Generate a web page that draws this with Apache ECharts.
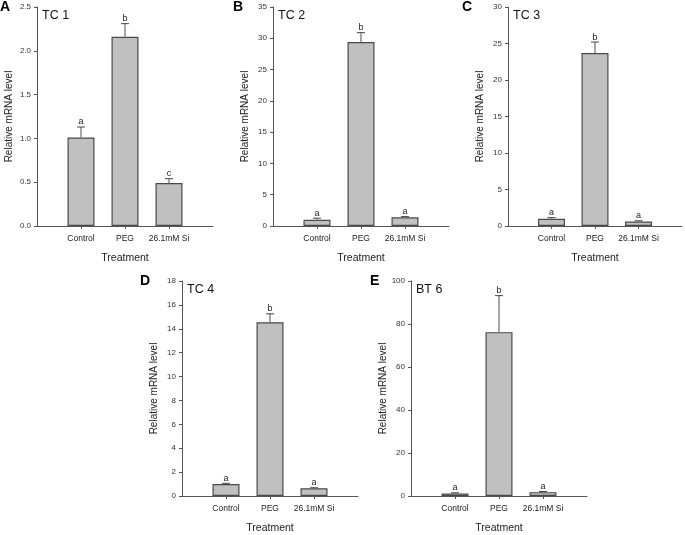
<!DOCTYPE html>
<html><head><meta charset="utf-8">
<script src="https://cdn.jsdelivr.net/npm/echarts@6/dist/echarts.min.js"></script>
<style>html,body{margin:0;padding:0;background:#fff}#c{width:685px;height:535px}</style>
</head><body><div id="c"></div>
<script>
const categories = ['', 'Control', 'PEG', '26.1mM Si', ''];
const panelLetters = ['A', 'B', 'C', 'D', 'E'];
const panelTitles = ['TC 1', 'TC 2', 'TC 3', 'TC 4', 'BT 6'];
const valsA = [1.01, 2.16, 0.49];
const errA = [0.12, 0.15, 0.05];
const sigA = ['a', 'b', 'c'];
const valsB = [1.0, 29.4, 1.4];
const errB = [0.25, 1.5, 0.1];
const sigB = ['a', 'b', 'a'];
const valsC = [1.0, 23.7, 0.62];
const errC = [0.15, 1.5, 0.1];
const sigC = ['a', 'b', 'a'];
const valsD = [1.0, 14.55, 0.65];
const errD = [0.06, 0.7, 0.04];
const sigD = ['a', 'b', 'a'];
const valsE = [1.2, 76.2, 1.8];
const errE = [0.3, 17, 0.3];
const sigE = ['a', 'b', 'a'];
const yMax = [2.5, 35, 30, 18, 100];
const yStep = [0.5, 5, 5, 2, 20];
const yDecimals = [1, 0, 0, 0, 0];

const vals = [valsA, valsB, valsC, valsD, valsE];
const errs = [errA, errB, errC, errD, errE];
const sigs = [sigA, sigB, sigC, sigD, sigE];

const FONT = 'Liberation Sans, Arial, sans-serif';
const AX = '#555';
const layout = [
  {left: 37, top: 7, height: 219, letterX: 0, letterY: 0},
  {left: 273, top: 7, height: 219, letterX: 233, letterY: 0},
  {left: 508, top: 7, height: 219, letterX: 462, letterY: 0},
  {left: 182, top: 281, height: 220, letterX: 140, letterY: 274},
  {left: 411, top: 281, height: 219, letterX: 370, letterY: 274}
];

const grid = [], xAxis = [], yAxis = [], series = [], title = [];
layout.forEach((L, i) => {
  grid.push({left: L.left, top: L.top, width: 176, height: L.height, containLabel: false});
  xAxis.push({
    type: 'category', gridIndex: i, data: categories, boundaryGap: false,
    name: 'Treatment', nameLocation: 'middle', nameGap: 27,
    nameTextStyle: {fontFamily: FONT, fontSize: 10.5, color: '#222'},
    axisLine: {lineStyle: {color: AX, width: 1}},
    axisTick: {show: true, length: 3, interval: (idx, v) => v !== '', lineStyle: {color: AX}},
    axisLabel: {interval: 0, fontFamily: FONT, fontSize: 8.5, color: '#222', margin: 8},
    splitLine: {show: false}
  });
  yAxis.push({
    type: 'value', gridIndex: i, min: 0, max: yMax[i], interval: yStep[i],
    name: 'Relative mRNA level', nameLocation: 'middle', nameGap: 23,
    nameTextStyle: {fontFamily: FONT, fontSize: 10, color: '#222'},
    axisLine: {show: true, lineStyle: {color: AX, width: 1}},
    axisTick: {show: true, length: 3, lineStyle: {color: AX}},
    axisLabel: {fontFamily: FONT, fontSize: 8, color: '#333', margin: 6,
      formatter: v => v.toFixed(yDecimals[i])},
    splitLine: {show: false}
  });
  const v = vals[i];
  series.push({
    type: 'bar', xAxisIndex: i, yAxisIndex: i, barWidth: 27,
    data: [null, v[0], v[1], v[2], null],
    itemStyle: {color: '#c0c0c0', borderColor: '#4a4a4a', borderWidth: 1.2},
    silent: true
  });
  const ed = v.map((val, k) => [k + 1, val, errs[i][k], sigs[i][k]]);
  series.push({
    type: 'custom', xAxisIndex: i, yAxisIndex: i, data: ed, z: 5,
    renderItem: (params, api) => {
      const x = api.value(0), y = api.value(1), e = api.value(2);
      const p0 = api.coord([x, y]);
      const p1 = api.coord([x, y + e]);
      return {type: 'group', children: [
        {type: 'line', shape: {x1: p0[0], y1: p0[1], x2: p1[0], y2: p1[1]},
          style: {stroke: '#888', lineWidth: 1.5}},
        {type: 'line', shape: {x1: p1[0] - 4, y1: p1[1], x2: p1[0] + 4, y2: p1[1]},
          style: {stroke: '#444', lineWidth: 1}},
        {type: 'text', x: p1[0], y: p1[1] - 0.5,
          style: {text: sigs[i][params.dataIndex], fontFamily: FONT, fontSize: 9, fill: '#222',
            align: 'center', verticalAlign: 'bottom'}}
      ]};
    }
  });
  title.push({text: panelLetters[i], left: L.letterX, top: L.letterY,
    textStyle: {fontFamily: FONT, fontSize: 14, fontWeight: 'bold', color: '#000'}, padding: 0});
  title.push({text: panelTitles[i], left: L.left + 5, top: L.top + 2,
    textStyle: {fontFamily: FONT, fontSize: 12.5, fontWeight: 'normal', color: '#111'}, padding: 0});
});

const chart = echarts.init(document.getElementById('c'), null, {renderer: 'canvas'});
chart.setOption({animation: false, backgroundColor: '#fff', title, grid, xAxis, yAxis, series});
</script>
</body></html>
